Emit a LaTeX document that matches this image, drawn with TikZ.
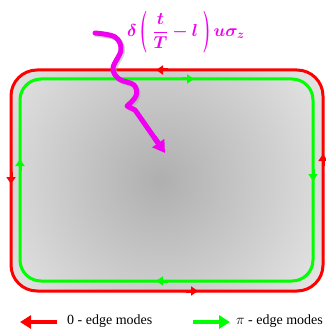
\documentclass[tikz,border=0pt]{standalone}
\usepackage{amsmath,bm,graphicx}
\usepackage{fontspec}
\newfontfamily\legendfont{Liberation Serif}
\usetikzlibrary{arrows.meta,shadings}
\definecolor{redE}{RGB}{255,0,0}
\definecolor{greenE}{RGB}{0,255,0}
\definecolor{magE}{RGB}{240,0,240}
\newcommand{\tallparen}[1]{\vcenter{\hbox{\scalebox{1.05}[2.4]{$\bm{#1}$}}}}
\tikzset{
  redline/.style={draw=redE, line width=3pt},
  greenline/.style={draw=greenE, line width=3pt},
  redtip/.style={redE, line width=3pt, -{Triangle[length=7pt,width=9pt]}},
  greentip/.style={greenE, line width=3pt, -{Triangle[length=7pt,width=9pt]}},
  legarrow/.style={line width=4pt, -{Triangle[length=11pt,width=13pt]}},
  legtext/.style={font=\legendfont\fontsize{14}{16}\selectfont, anchor=west, inner sep=0pt},
  wave/.style={magE, line width=5pt, line join=round, line cap=round}
}
\begin{document}
\begin{tikzpicture}[x=1pt,y=-1pt]
\useasboundingbox (0,0) rectangle (325,331);
% gray shaded area
\begin{scope}
  \clip[rounded corners=26pt] (11,70) rectangle (323,291);
  \shade[inner color={rgb,255:red,175;green,175;blue,175}, outer color={rgb,255:red,228;green,228;blue,228}]
    (160,180) circle (190pt);
\end{scope}
% outer red
\draw[redline, rounded corners=26pt] (11,70) rectangle (323,291);
% inner green
\draw[greenline, rounded corners=21pt] (20,79) rectangle (313,281);
% red arrow tips (counterclockwise)
\draw[redtip] (168,70) -- (156,70);
\draw[redtip] (11,172) -- (11,184);
\draw[redtip] (186,291) -- (198,291);
\draw[redtip] (323,166) -- (323,154);
% green arrow tips (clockwise)
\draw[greentip] (182,79) -- (194,79);
\draw[greentip] (313,169) -- (313,181);
\draw[greentip] (168,281) -- (156,281);
\draw[greentip] (20,171) -- (20,159);
% wavy perturbation (shadow then line)
\draw[black!35, opacity=0.5, line width=5pt, line join=round, line cap=round, xshift=1.5pt, yshift=-1.5pt]
  plot[smooth, tension=0.6] coordinates {(95,33) (115,37) (121,50) (113,68) (119,79) (134,85) (136,96) (127,106)}
  -- (135,110) -- (160,146);
\draw[wave]
  plot[smooth, tension=0.6] coordinates {(95,33) (115,37) (121,50) (113,68) (119,79) (134,85) (136,96) (127,106)}
  -- (135,110) -- (158,143);
\draw[magE, line width=5pt, -{Triangle[length=12pt,width=14pt]}] (154,137) -- (165,153);
% label
\node[text=magE, inner sep=0pt] (lab) at (186,32)
  {\fontsize{16.5}{20}\selectfont $\bm{\delta}\,\mathopen{\tallparen{(}}\;\dfrac{\bm{t}}{\bm{T}}\bm{-l}\;\mathclose{\tallparen{)}}\,\bm{u\sigma_z}$};
% legend
\coordinate (r1) at (57,322);
\coordinate (r0) at (20,322);
\draw[legarrow, redE] (r1) -- (r0);
\node[legtext] (t0) at (67,321) {0 - edge modes};
\coordinate (g0) at (193,322);
\coordinate (g1) at (230,322);
\draw[legarrow, greenE] (g0) -- (g1);
\node[legtext] (t1) at (236,321) {$\pi$ - edge modes};
\end{tikzpicture}
\end{document}
